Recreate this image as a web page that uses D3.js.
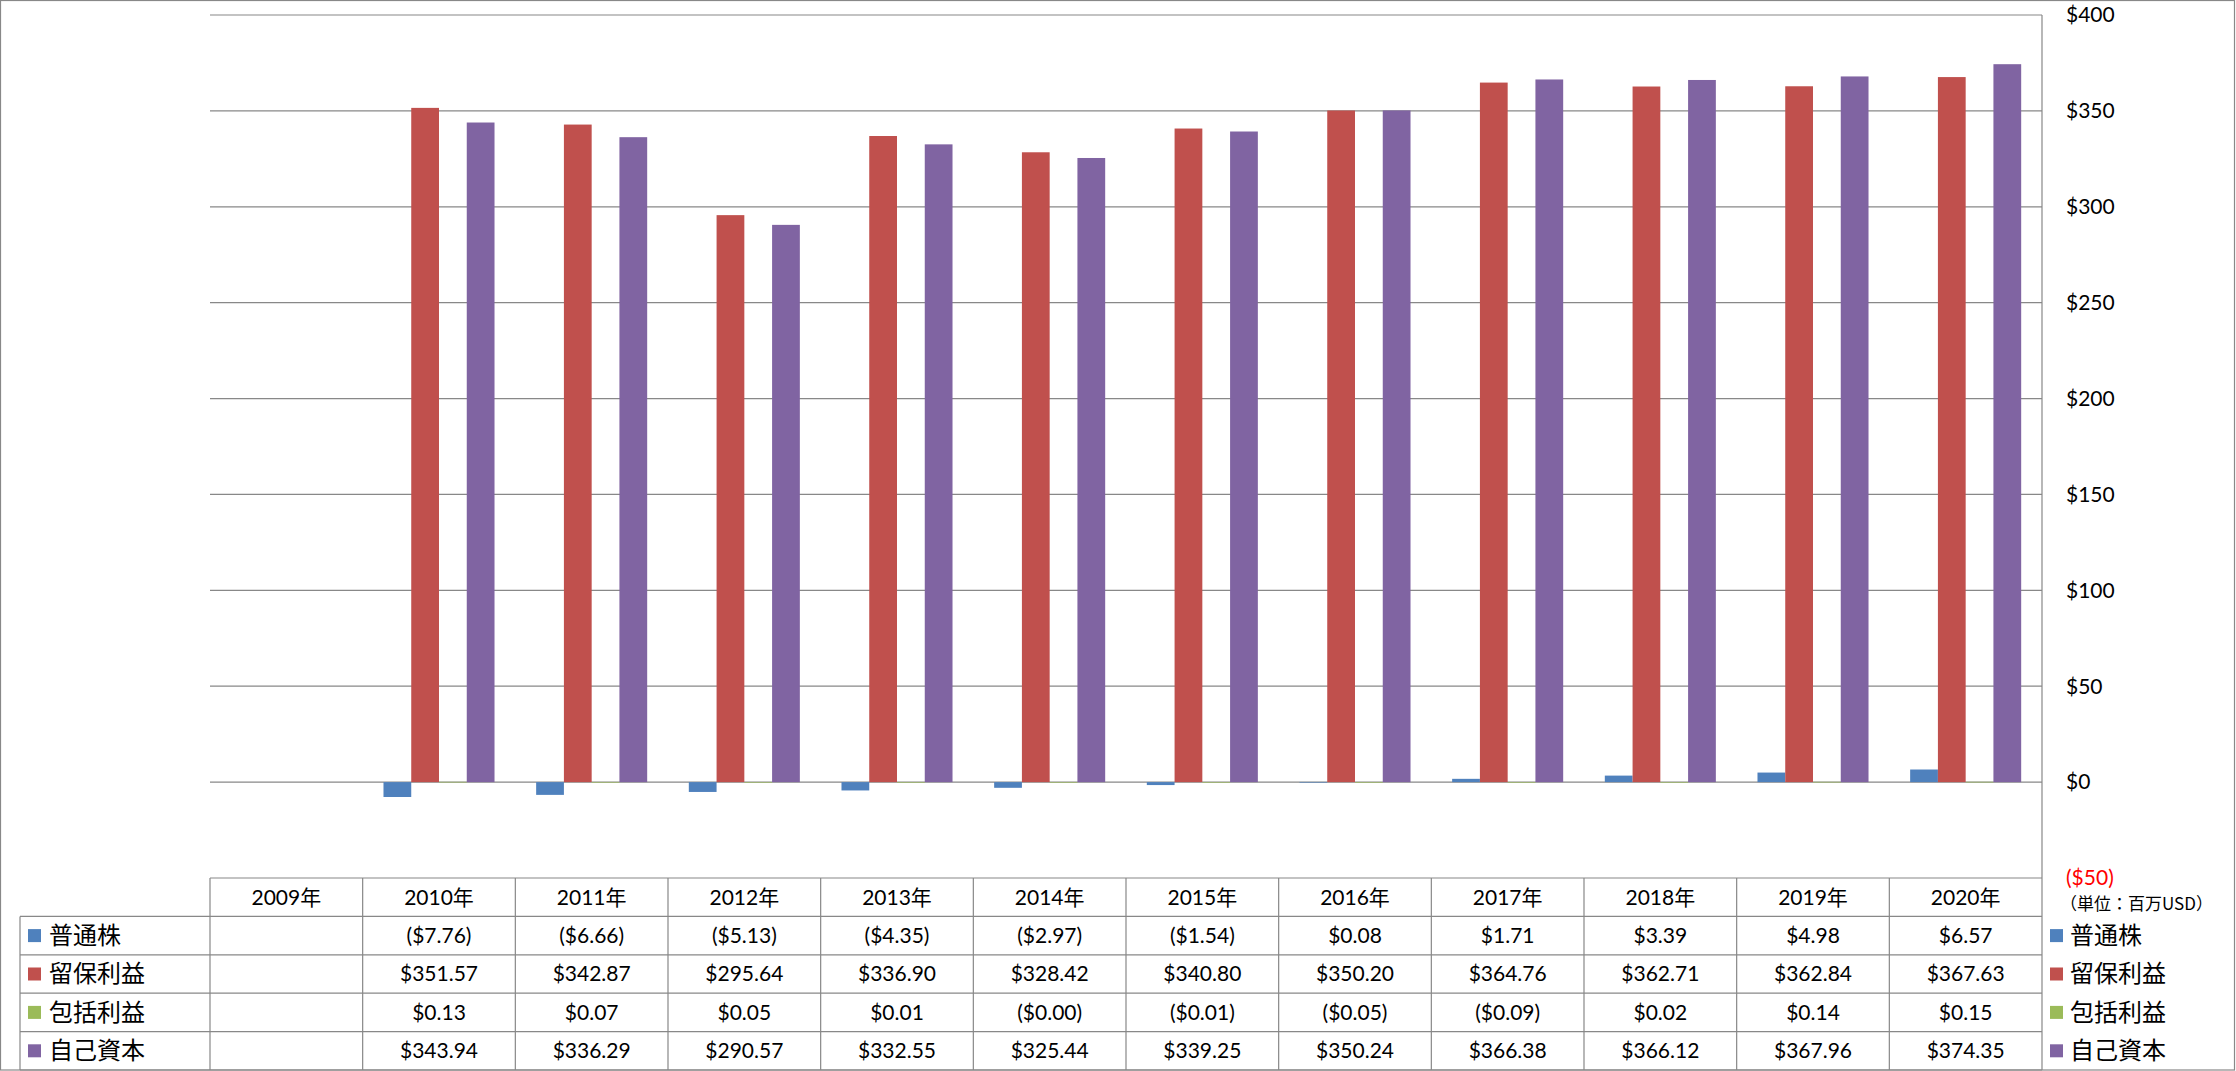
<!DOCTYPE html>
<html>
<head>
<meta charset="utf-8">
<script src="https://cdnjs.cloudflare.com/ajax/libs/d3/7.8.5/d3.min.js"></script>
<style>
  body { margin: 0; background: #fff; }
  text { font-family: Lato, "Noto Sans CJK JP", sans-serif; fill: #000; }
  .jp { font-family: "Noto Sans CJK JP", sans-serif; }
</style>
</head>
<body>
<div class="chart"></div>
<script>
var years = ["2009年", "2010年", "2011年", "2012年", "2013年", "2014年", "2015年",
             "2016年", "2017年", "2018年", "2019年", "2020年"];
var seriesNames = ["普通株", "留保利益", "包括利益", "自己資本"];
var seriesColors = ["#4F81BD", "#C0504D", "#9BBB59", "#8064A2"];

var commonStock = [null, -7.76, -6.66, -5.13, -4.35, -2.97, -1.54, 0.08, 1.71, 3.39, 4.98, 6.57];
var retainedEarnings = [null, 351.57, 342.87, 295.64, 336.90, 328.42, 340.80, 350.20, 364.76, 362.71, 362.84, 367.63];
var comprehensiveIncome = [null, 0.13, 0.07, 0.05, 0.01, -0.001, -0.01, -0.05, -0.09, 0.02, 0.14, 0.15];
var equity = [null, 343.94, 336.29, 290.57, 332.55, 325.44, 339.25, 350.24, 366.38, 366.12, 367.96, 374.35];

var yTicks = [-50, 0, 50, 100, 150, 200, 250, 300, 350, 400];

var allSeries = [commonStock, retainedEarnings, comprehensiveIncome, equity];

var svgWidth = 2236;
var svgHeight = 1071;

var plotLeft = 210, plotRight = 2042, plotTop = 15, plotBottom = 878;
var legendLeft = 20;
var tableBottom = 1070;
var rowH = (tableBottom - plotBottom) / 5;
var gridColor = "#888888";

var svg = d3.select(".chart")
  .append("svg")
  .attr("width", svgWidth)
  .attr("height", svgHeight);

var xScale = d3.scaleBand().domain(years).range([plotLeft, plotRight]).padding(0);
var xInner = d3.scaleBand().domain(seriesNames).range([0, xScale.bandwidth()])
  .paddingInner(0).paddingOuter(0.75);
var yScale = d3.scaleLinear().domain([-50, 400]).range([plotBottom, plotTop]);

function fmt(v) {
  if (v === null) return "";
  return v < 0 ? "($" + Math.abs(v).toFixed(2) + ")" : "$" + v.toFixed(2);
}
function fmtAxis(v) {
  return v < 0 ? "($" + Math.abs(v) + ")" : "$" + v;
}

// outer frame
svg.append("rect")
  .attr("x", 0.5).attr("y", 0.5)
  .attr("width", svgWidth - 2).attr("height", svgHeight - 1.5)
  .attr("fill", "none").attr("stroke", gridColor).attr("stroke-width", 1.2);

// gridlines
svg.append("g").selectAll("line")
  .data(yTicks.filter(function(t) { return t >= 0; }))
  .enter().append("line")
  .attr("x1", plotLeft).attr("x2", plotRight)
  .attr("y1", function(d) { return yScale(d); })
  .attr("y2", function(d) { return yScale(d); })
  .attr("stroke", gridColor).attr("stroke-width", 1.2);

// bars
var groups = svg.append("g").selectAll("g")
  .data(years)
  .enter().append("g")
  .attr("transform", function(d) { return "translate(" + xScale(d) + ",0)"; });

groups.selectAll("rect")
  .data(function(d, i) {
    return seriesNames.map(function(name, s) {
      return { name: name, value: allSeries[s][i], color: seriesColors[s] };
    }).filter(function(b) { return b.value !== null; });
  })
  .enter().append("rect")
  .attr("x", function(d) { return xInner(d.name); })
  .attr("width", xInner.bandwidth())
  .attr("y", function(d) { return yScale(Math.max(0, d.value)); })
  .attr("height", function(d) { return Math.max(Math.abs(yScale(d.value) - yScale(0)), 0.6); })
  .attr("fill", function(d) { return d.color; });

// right axis line
svg.append("line")
  .attr("x1", plotRight).attr("x2", plotRight)
  .attr("y1", plotTop).attr("y2", tableBottom)
  .attr("stroke", gridColor).attr("stroke-width", 1.2);

// y axis labels
svg.append("g").selectAll("text")
  .data(yTicks)
  .enter().append("text")
  .attr("x", 2066)
  .attr("y", function(d) { return yScale(d); })
  .attr("dy", "0.35em")
  .attr("font-size", 21)
  .style("fill", function(d) { return d < 0 ? "#FF0000" : "#000"; })
  .text(fmtAxis);

svg.append("text")
  .attr("class", "jp")
  .attr("x", 2060)
  .attr("y", 904)
  .attr("dy", "0.35em")
  .attr("font-size", 17)
  .text("（単位：百万USD）");

// data table lines
var table = svg.append("g");
table.append("line")
  .attr("x1", plotLeft).attr("x2", plotRight)
  .attr("y1", plotBottom).attr("y2", plotBottom)
  .attr("stroke", gridColor).attr("stroke-width", 1.2);
d3.range(1, 6).forEach(function(r) {
  table.append("line")
    .attr("x1", legendLeft).attr("x2", plotRight)
    .attr("y1", plotBottom + r * rowH).attr("y2", plotBottom + r * rowH)
    .attr("stroke", gridColor).attr("stroke-width", 1.2);
});
table.append("line")
  .attr("x1", legendLeft).attr("x2", legendLeft)
  .attr("y1", plotBottom + rowH).attr("y2", tableBottom)
  .attr("stroke", gridColor).attr("stroke-width", 1.2);
table.selectAll(".vline")
  .data(years)
  .enter().append("line")
  .attr("class", "vline")
  .attr("x1", function(d) { return xScale(d); })
  .attr("x2", function(d) { return xScale(d); })
  .attr("y1", plotBottom).attr("y2", tableBottom)
  .attr("stroke", gridColor).attr("stroke-width", 1.2);

// header
table.selectAll(".yr")
  .data(years)
  .enter().append("text")
  .attr("class", "yr")
  .attr("x", function(d) { return xScale(d) + xScale.bandwidth() / 2; })
  .attr("y", plotBottom + rowH / 2)
  .attr("dy", "0.35em")
  .attr("text-anchor", "middle")
  .attr("font-size", 21)
  .text(function(d) { return d; });

// values
allSeries.forEach(function(vals, s) {
  var cy = plotBottom + (s + 1.5) * rowH;
  table.append("g").selectAll("text")
    .data(vals)
    .enter().append("text")
    .attr("x", function(d, i) { return xScale(years[i]) + xScale.bandwidth() / 2; })
    .attr("y", cy)
    .attr("dy", "0.35em")
    .attr("text-anchor", "middle")
    .attr("font-size", 21)
    .text(fmt);

  // left legend keys
  table.append("rect")
    .attr("x", 28).attr("y", cy - 6.5)
    .attr("width", 13).attr("height", 13)
    .attr("fill", seriesColors[s]);
  table.append("text")
    .attr("class", "jp")
    .attr("x", 49).attr("y", cy)
    .attr("dy", "0.35em")
    .attr("font-size", 24)
    .text(seriesNames[s]);

  // right legend
  svg.append("rect")
    .attr("x", 2050).attr("y", cy - 6.5)
    .attr("width", 13).attr("height", 13)
    .attr("fill", seriesColors[s]);
  svg.append("text")
    .attr("class", "jp")
    .attr("x", 2070).attr("y", cy)
    .attr("dy", "0.35em")
    .attr("font-size", 24)
    .text(seriesNames[s]);
});
</script>
</body>
</html>
